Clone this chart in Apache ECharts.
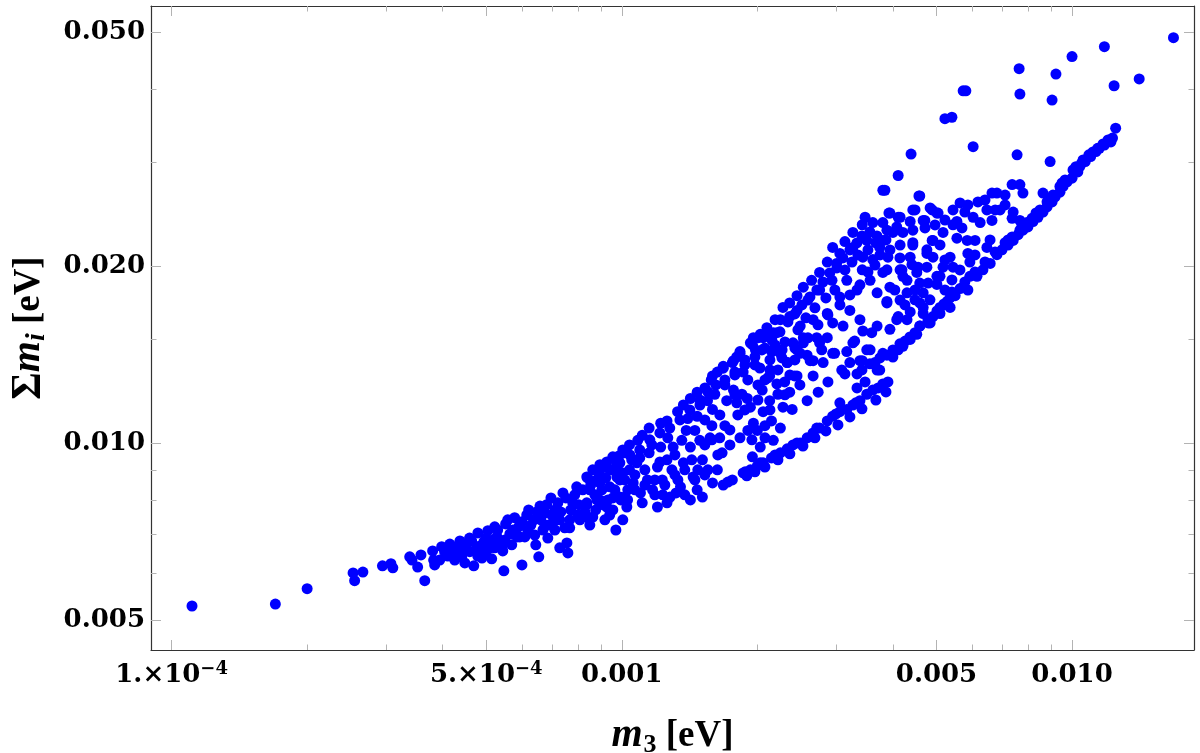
<!DOCTYPE html>
<html>
<head>
<meta charset="utf-8">
<title>m3 vs sum of masses</title>
<script src="https://cdn.jsdelivr.net/npm/echarts@6/dist/echarts.min.js"></script>
<style>
  html, body { margin: 0; padding: 0; background: #fff; }
  #chart { width: 1200px; height: 753px; }
</style>
</head>
<body>
<div id="chart"></div>
<script>
// values: [m3 (eV), sum m_i (eV)]
var tailPoints = [
  [1.11e-4, 0.00528], [1.70e-4, 0.00532], [2.00e-4, 0.00565], [2.53e-4, 0.00601], [2.55e-4, 0.00583],
  [2.66e-4, 0.00603], [2.94e-4, 0.00618], [3.07e-4, 0.00623], [3.10e-4, 0.00613], [3.38e-4, 0.00640],
  [3.42e-4, 0.00632], [3.58e-4, 0.00645], [3.52e-4, 0.00615], [3.65e-4, 0.00583], [3.80e-4, 0.00655],
  [3.82e-4, 0.00632], [3.84e-4, 0.00620], [3.98e-4, 0.00666], [4.15e-4, 0.00673], [4.23e-4, 0.00650],
  [4.37e-4, 0.00681], [4.43e-4, 0.00658], [4.48e-4, 0.00625], [4.59e-4, 0.00689], [4.69e-4, 0.00618],
  [4.79e-4, 0.00703], [4.84e-4, 0.00668], [4.89e-4, 0.00637], [4.99e-4, 0.00689], [5.09e-4, 0.00663],
  [5.14e-4, 0.00635], [5.22e-4, 0.00720], [5.28e-4, 0.00692], [5.36e-4, 0.00676], [5.44e-4, 0.00655],
  [5.47e-4, 0.00606], [5.58e-4, 0.00740], [5.73e-4, 0.00711], [5.78e-4, 0.00746], [5.85e-4, 0.00692],
  [6.00e-4, 0.00734], [6.00e-4, 0.00620], [6.09e-4, 0.00692], [6.21e-4, 0.00769], [6.38e-4, 0.00740],
  [6.44e-4, 0.00671], [6.54e-4, 0.00640], [6.58e-4, 0.00781], [6.68e-4, 0.00711], [6.75e-4, 0.00760],
  [6.85e-4, 0.00689], [6.96e-4, 0.00806], [7.03e-4, 0.00731], [7.10e-4, 0.00769], [7.28e-4, 0.00663],
  [7.40e-4, 0.00822], [7.47e-4, 0.00717], [7.55e-4, 0.00676], [7.59e-4, 0.00650], [7.66e-4, 0.00740],
  [7.78e-4, 0.00791], [7.94e-4, 0.00842], [8.07e-4, 0.00740], [8.36e-4, 0.00785], [8.40e-4, 0.00872],
  [8.49e-4, 0.00725], [8.62e-4, 0.00748], [8.80e-4, 0.00865], [8.94e-4, 0.00800], [9.07e-4, 0.00910],
  [9.17e-4, 0.00740], [9.40e-4, 0.00842], [9.55e-4, 0.00769], [9.70e-4, 0.00711], [9.75e-4, 0.00925],
  [9.90e-4, 0.00865], [1.005e-3, 0.00740], [1.015e-3, 0.00962], [1.015e-3, 0.00809], [1.026e-3, 0.00778],
  [1.005e-3, 0.00889],
  [4.04e-4, 0.00653], [4.19e-4, 0.00663], [4.32e-4, 0.00668], [4.52e-4, 0.00671], [4.64e-4, 0.00681],
  [4.74e-4, 0.00658], [4.94e-4, 0.00679], [5.04e-4, 0.00709], [5.17e-4, 0.00684], [5.30e-4, 0.00711],
  [5.41e-4, 0.00668], [5.52e-4, 0.00728], [5.64e-4, 0.00700], [5.90e-4, 0.00720], [6.15e-4, 0.00754],
  [6.28e-4, 0.00725], [6.47e-4, 0.00763], [6.61e-4, 0.00740], [6.81e-4, 0.00785], [6.88e-4, 0.00725],
  [6.99e-4, 0.00754], [7.21e-4, 0.00791], [7.32e-4, 0.00763], [7.51e-4, 0.00806], [7.70e-4, 0.00769],
  [7.86e-4, 0.00816], [8.02e-4, 0.00785], [8.19e-4, 0.00832], [8.28e-4, 0.00763], [8.53e-4, 0.00848],
  [8.71e-4, 0.00816], [8.85e-4, 0.00893], [9.03e-4, 0.00832], [9.21e-4, 0.00872], [9.31e-4, 0.00800],
  [9.50e-4, 0.00900], [9.65e-4, 0.00832], [9.80e-4, 0.00900], [9.95e-4, 0.00800], [9.85e-4, 0.00950],
  [1.031e-3, 0.00832], [1.052e-3, 0.00936], [1.069e-3, 0.00882],
  [3.94e-4, 0.00632], [4.105e-4, 0.00642], [4.255e-4, 0.00632], [4.41e-4, 0.00640], [4.594e-4, 0.00653],
  [4.786e-4, 0.00642], [4.987e-4, 0.00653], [5.22e-4, 0.00663], [5.495e-4, 0.00684], [5.695e-4, 0.00671],
  [5.933e-4, 0.00692], [6.18e-4, 0.00711], [6.407e-4, 0.00697], [6.745e-4, 0.00725], [7.10e-4, 0.00711],
  [7.28e-4, 0.00740], [7.66e-4, 0.00717], [7.98e-4, 0.00754], [8.40e-4, 0.00746], [8.75e-4, 0.00769],
  [9.07e-4, 0.00785], [9.40e-4, 0.00754]
];

var upperBand = [
  [8.36e-4, 0.00875], [8.62e-4, 0.00900], [8.94e-4, 0.00918], [9.26e-4, 0.00928], [9.55e-4, 0.00947],
  [1.005e-3, 0.00973], [1.04e-3, 0.00992], [1.085e-3, 0.0101], [1.11e-3, 0.0103], [1.15e-3, 0.0106],
  [1.22e-3, 0.0108], [1.26e-3, 0.0109], [1.33e-3, 0.0113], [1.37e-3, 0.0116], [1.42e-3, 0.0119],
  [1.47e-3, 0.0122], [1.53e-3, 0.0124], [1.58e-3, 0.0128], [1.63e-3, 0.0132], [1.68e-3, 0.0135],
  [1.76e-3, 0.0137], [1.80e-3, 0.0140], [1.83e-3, 0.0143], [1.93e-3, 0.0148], [1.96e-3, 0.0151],
  [2.03e-3, 0.0153], [2.11e-3, 0.0154], [2.21e-3, 0.0154],
  [1.59e-3, 0.0130], [1.68e-3, 0.0134], [1.77e-3, 0.0138], [1.83e-3, 0.0142], [1.95e-3, 0.0147],
  [2.01e-3, 0.0151], [2.10e-3, 0.0157], [2.19e-3, 0.0162], [2.28e-3, 0.0170], [2.36e-3, 0.0173],
  [2.45e-3, 0.0178], [2.53e-3, 0.0184], [2.64e-3, 0.0189], [2.75e-3, 0.0195], [2.86e-3, 0.0203],
  [2.94e-3, 0.0215], [3.05e-3, 0.0210], [3.13e-3, 0.0220], [3.26e-3, 0.0228], [3.42e-3, 0.0235],
  [3.47e-3, 0.0242], [3.61e-3, 0.0237], [3.80e-3, 0.0237], [3.84e-3, 0.0269], [3.92e-3, 0.0246],
  [4.11e-3, 0.0242], [4.37e-3, 0.0238], [4.48e-3, 0.0249], [4.59e-3, 0.0263], [4.71e-3, 0.0239],
  [4.89e-3, 0.0249], [5.01e-3, 0.0246],
  [1.694e-3, 0.0128], [1.783e-3, 0.0132], [1.876e-3, 0.01357], [1.975e-3, 0.0140], [2.079e-3, 0.0145],
  [2.154e-3, 0.01497], [2.245e-3, 0.01545], [2.338e-3, 0.01606], [2.423e-3, 0.01657], [2.512e-3, 0.01717],
  [2.617e-3, 0.01771], [2.712e-3, 0.0182], [2.797e-3, 0.01878], [2.897e-3, 0.01946], [3.004e-3, 0.01984],
  [3.097e-3, 0.02064], [3.211e-3, 0.02129], [3.328e-3, 0.02188], [3.415e-3, 0.02249], [3.556e-3, 0.02285],
  [3.687e-3, 0.02249],
  [1.905e-3, 0.0128], [2.026e-3, 0.01341], [2.154e-3, 0.01428], [2.303e-3, 0.01485], [2.461e-3, 0.01557],
  [2.564e-3, 0.01632], [2.685e-3, 0.01697], [2.840e-3, 0.01764], [2.973e-3, 0.0182], [3.130e-3, 0.01969],
  [3.245e-3, 0.02031], [3.345e-3, 0.02088], [3.521e-3, 0.02129], [3.667e-3, 0.02188], [3.861e-3, 0.02214],
  [8.94e-4, 0.00882], [9.40e-4, 0.00900], [9.90e-4, 0.00925], [1.042e-3, 0.00954], [1.096e-3, 0.00973],
  [1.154e-3, 0.01012], [1.215e-3, 0.0104], [1.278e-3, 0.0106], [1.346e-3, 0.01094], [1.416e-3, 0.01138],
  [1.491e-3, 0.01183], [1.553e-3, 0.01221], [1.618e-3, 0.01255],
  [2.133e-3, 0.01331], [2.268e-3, 0.01395], [2.423e-3, 0.0145], [2.590e-3, 0.01509], [2.727e-3, 0.01588],
  [2.869e-3, 0.01651], [3.051e-3, 0.01717], [3.211e-3, 0.01785], [3.380e-3, 0.01857], [3.521e-3, 0.01953],
  [3.65e-3, 0.02007], [3.744e-3, 0.02088]
];

var middlePoints = [
  [8.49e-4, 0.00832], [8.94e-4, 0.00855], [9.75e-4, 0.00875], [9.90e-4, 0.00809], [1.04e-3, 0.00900],
  [1.06e-3, 0.00855], [1.08e-3, 0.00925], [1.11e-3, 0.00791], [1.14e-3, 0.00865], [1.15e-3, 0.00962],
  [1.20e-3, 0.00910], [1.22e-3, 0.00984], [1.23e-3, 0.00865], [1.26e-3, 0.00936], [1.28e-3, 0.00809],
  [1.30e-3, 0.00984], [1.35e-3, 0.00842], [1.37e-3, 0.00925], [1.39e-3, 0.0105], [1.42e-3, 0.00984],
  [1.44e-3, 0.00875], [1.47e-3, 0.0111], [1.49e-3, 0.0101], [1.51e-3, 0.00936], [1.55e-3, 0.0118],
  [1.57e-3, 0.0102], [1.59e-3, 0.0114], [1.63e-3, 0.00900], [1.65e-3, 0.0102], [1.67e-3, 0.00962],
  [1.71e-3, 0.0118], [1.72e-3, 0.00858], [1.77e-3, 0.0123], [1.80e-3, 0.0117], [1.83e-3, 0.0102],
  [1.86e-3, 0.0132], [1.88e-3, 0.00893], [1.90e-3, 0.0119], [1.93e-3, 0.0115], [1.95e-3, 0.00947],
  [1.96e-3, 0.0108], [1.98e-3, 0.0144], [2.00e-3, 0.0105], [2.03e-3, 0.00984], [2.05e-3, 0.0123],
  [2.06e-3, 0.0113], [2.08e-3, 0.0102], [2.11e-3, 0.0129], [2.13e-3, 0.0118], [2.15e-3, 0.0109],
  [2.17e-3, 0.0101], [2.21e-3, 0.0126], [2.25e-3, 0.0106], [2.27e-3, 0.0144], [2.28e-3, 0.0115],
  [2.30e-3, 0.0127], [2.33e-3, 0.0137], [2.36e-3, 0.0122], [2.39e-3, 0.0114], [2.40e-3, 0.0148],
  [2.45e-3, 0.0130], [2.49e-3, 0.0142], [2.53e-3, 0.0151], [2.58e-3, 0.0118], [2.62e-3, 0.0138],
  [2.66e-3, 0.0130], [2.73e-3, 0.0122], [2.75e-3, 0.0148], [2.80e-3, 0.0137], [2.87e-3, 0.0127],
  [2.94e-3, 0.0142], [3.05e-3, 0.0117], [3.08e-3, 0.0133], [3.16e-3, 0.0143], [3.21e-3, 0.0137],
  [3.29e-3, 0.0149], [3.33e-3, 0.0124], [3.38e-3, 0.0138], [3.47e-3, 0.0127], [3.50e-3, 0.0144],
  [3.59e-3, 0.0154], [3.69e-3, 0.0133],
  [8.36e-4, 0.00791], [8.80e-4, 0.00800], [9.26e-4, 0.00778], [9.55e-4, 0.00806], [1.03e-3, 0.00800],
  [1.10e-3, 0.00822], [1.17e-3, 0.00832], [1.20e-3, 0.00778], [1.26e-3, 0.00791], [1.32e-3, 0.00822],
  [1.42e-3, 0.00800], [1.47e-3, 0.00832], [1.51e-3, 0.00809], [1.59e-3, 0.00855], [1.68e-3, 0.00848],
  [1.76e-3, 0.00865],
  [1.096e-3, 0.00943], [1.125e-3, 0.00900], [1.166e-3, 0.00992], [1.184e-3, 0.00865], [1.215e-3, 0.00928],
  [1.233e-3, 0.00816], [1.265e-3, 0.0102], [1.292e-3, 0.00900], [1.312e-3, 0.00954], [1.332e-3, 0.00865],
  [1.359e-3, 0.0101], [1.380e-3, 0.00816], [1.401e-3, 0.0110], [1.430e-3, 0.00936], [1.453e-3, 0.0105],
  [1.475e-3, 0.00900], [1.491e-3, 0.0116], [1.529e-3, 0.00992], [1.553e-3, 0.00900], [1.585e-3, 0.0107],
  [1.609e-3, 0.0121], [1.634e-3, 0.00954], [1.694e-3, 0.01255], [1.694e-3, 0.0107], [1.738e-3, 0.00992],
  [1.783e-3, 0.01305], [1.810e-3, 0.01116], [1.848e-3, 0.0121], [1.876e-3, 0.01384], [1.905e-3, 0.0105],
  [1.975e-3, 0.01357], [2.006e-3, 0.01255], [2.047e-3, 0.01439], [2.079e-3, 0.0107], [2.133e-3, 0.01384],
  [2.188e-3, 0.01468], [2.222e-3, 0.0121],
  [1.015e-3, 0.00865], [1.069e-3, 0.00832], [1.125e-3, 0.00848], [1.184e-3, 0.00816], [1.246e-3, 0.00848],
  [1.312e-3, 0.00882], [1.380e-3, 0.00900], [1.453e-3, 0.00865], [1.529e-3, 0.00882],
  [1.529e-3, 0.01094], [1.585e-3, 0.01012], [1.651e-3, 0.01116], [1.738e-3, 0.01052], [1.783e-3, 0.01207],
  [1.876e-3, 0.01138], [1.945e-3, 0.01012], [2.006e-3, 0.01183], [2.079e-3, 0.0128], [2.133e-3, 0.01138],
  [2.222e-3, 0.01331], [2.303e-3, 0.01207], [2.362e-3, 0.01305], [2.423e-3, 0.01384], [2.486e-3, 0.01255]
];

var lowerBand = [
  [1.86e-3, 0.00889], [1.93e-3, 0.00900], [2.00e-3, 0.00914], [2.06e-3, 0.00925], [2.15e-3, 0.00943],
  [2.25e-3, 0.00962], [2.33e-3, 0.00977], [2.40e-3, 0.00992], [2.49e-3, 0.0100], [2.58e-3, 0.0102],
  [2.66e-3, 0.0104], [2.75e-3, 0.0106], [2.86e-3, 0.0109], [2.94e-3, 0.0111], [3.05e-3, 0.0113],
  [3.16e-3, 0.0114], [3.26e-3, 0.0116], [3.38e-3, 0.0118], [3.50e-3, 0.0121], [3.61e-3, 0.0123],
  [3.71e-3, 0.0124], [3.90e-3, 0.0127], [2.03e-3, 0.00925], [2.19e-3, 0.00954], [2.45e-3, 0.0100],
  [2.71e-3, 0.0106], [2.99e-3, 0.0112], [3.31e-3, 0.0117], [3.80e-3, 0.0126],
  [1.895e-3, 0.00879], [1.975e-3, 0.00893], [2.079e-3, 0.00910], [2.222e-3, 0.00936], [2.362e-3, 0.00958],
  [2.525e-3, 0.00988], [2.685e-3, 0.0102], [2.840e-3, 0.01048], [3.020e-3, 0.01073], [3.211e-3, 0.01107],
  [3.415e-3, 0.01143], [3.667e-3, 0.01183], [3.861e-3, 0.01221]
];

var upperInterior = [
  [2.06e-3, 0.0151], [2.17e-3, 0.0154], [2.25e-3, 0.0162], [2.36e-3, 0.0164], [2.45e-3, 0.0168],
  [2.49e-3, 0.0158], [2.59e-3, 0.0175], [2.66e-3, 0.0162], [2.71e-3, 0.0151], [2.75e-3, 0.0182],
  [2.86e-3, 0.0166], [2.93e-3, 0.0189], [2.94e-3, 0.0160], [3.00e-3, 0.0202], [3.05e-3, 0.0177],
  [3.10e-3, 0.0158], [3.16e-3, 0.0189], [3.21e-3, 0.0168], [3.26e-3, 0.0215], [3.33e-3, 0.0182],
  [3.38e-3, 0.0162], [3.42e-3, 0.0197], [3.43e-3, 0.0207], [3.50e-3, 0.0221], [3.56e-3, 0.0189],
  [3.61e-3, 0.0205], [3.69e-3, 0.0180], [3.74e-3, 0.0215], [3.80e-3, 0.0195], [3.88e-3, 0.0174],
  [3.90e-3, 0.0207], [4.00e-3, 0.0228], [4.04e-3, 0.0182], [4.11e-3, 0.0164], [4.15e-3, 0.0217],
  [4.19e-3, 0.0197], [4.30e-3, 0.0189], [4.37e-3, 0.0207], [4.43e-3, 0.0219], [4.48e-3, 0.0182],
  [4.55e-3, 0.0199], [4.59e-3, 0.0173], [4.67e-3, 0.0166], [4.76e-3, 0.0210], [4.79e-3, 0.0187],
  [4.91e-3, 0.0221], [5.01e-3, 0.0192],
  [2.13e-3, 0.0130], [2.25e-3, 0.0142], [2.33e-3, 0.0137], [2.42e-3, 0.0130], [2.45e-3, 0.0144],
  [2.53e-3, 0.0148], [2.58e-3, 0.0141], [2.66e-3, 0.0138], [2.78e-3, 0.0144], [2.86e-3, 0.0151],
  [2.97e-3, 0.0142], [3.13e-3, 0.0131], [3.26e-3, 0.0148], [3.33e-3, 0.0131], [3.42e-3, 0.0138],
  [3.43e-3, 0.0155], [3.56e-3, 0.0144], [3.69e-3, 0.0158], [3.74e-3, 0.0133], [3.80e-3, 0.0142],
  [3.94e-3, 0.0156], [4.00e-3, 0.0140], [4.11e-3, 0.0144], [4.21e-3, 0.0146], [4.37e-3, 0.0150],
  [4.52e-3, 0.0153], [4.59e-3, 0.0158], [4.79e-3, 0.0160]
];

var rightInterior = [
  [4.11e-3, 0.0285], [3.80e-3, 0.0269], [4.57e-3, 0.0263], [6.64e-3, 0.0266], [6.81e-3, 0.0266],
  [7.10e-3, 0.0264], [7.36e-3, 0.0275], [7.66e-3, 0.0275], [7.78e-3, 0.0266], [8.62e-3, 0.0266],
  [5.64e-3, 0.0256], [5.87e-3, 0.0254], [6.18e-3, 0.0257], [3.94e-3, 0.0246], [4.15e-3, 0.0242],
  [4.43e-3, 0.0249], [4.84e-3, 0.0251], [5.04e-3, 0.0246], [5.44e-3, 0.0249], [5.78e-3, 0.0247],
  [6.03e-3, 0.0242], [6.47e-3, 0.0249], [6.75e-3, 0.0249], [6.92e-3, 0.0249], [7.40e-3, 0.0247],
  [7.36e-3, 0.0241], [7.66e-3, 0.0239], [6.25e-3, 0.0237], [6.64e-3, 0.0239], [5.55e-3, 0.0238],
  [5.44e-3, 0.0235], [4.67e-3, 0.0239], [3.88e-3, 0.0230], [4.08e-3, 0.0233], [4.21e-3, 0.0228],
  [4.43e-3, 0.0230], [5.17e-3, 0.0228], [3.80e-3, 0.0221], [4.43e-3, 0.0217], [4.89e-3, 0.0221],
  [5.55e-3, 0.0223], [5.85e-3, 0.0221], [6.09e-3, 0.0221], [6.47e-3, 0.0215], [4.76e-3, 0.0213],
  [4.91e-3, 0.0207], [5.36e-3, 0.0207], [5.87e-3, 0.0210], [5.44e-3, 0.0199], [5.93e-3, 0.0203],
  [5.17e-3, 0.0199], [4.76e-3, 0.0199], [4.41e-3, 0.0201], [4.15e-3, 0.0197], [3.88e-3, 0.0197],
  [4.21e-3, 0.0192], [4.52e-3, 0.0195], [5.09e-3, 0.0192], [3.94e-3, 0.0184], [4.59e-3, 0.0187],
  [5.01e-3, 0.0186], [5.64e-3, 0.0183], [5.87e-3, 0.0182], [5.93e-3, 0.0192], [4.30e-3, 0.0180],
  [4.67e-3, 0.0180], [3.88e-3, 0.0173], [4.15e-3, 0.0175], [4.67e-3, 0.0170], [4.37e-3, 0.0167],
  [5.09e-3, 0.0166], [5.36e-3, 0.0170], [4.08e-3, 0.0162], [4.30e-3, 0.0162], [4.84e-3, 0.0160],
  [4.714e-3, 0.02321], [4.962e-3, 0.02348], [5.22e-3, 0.02394], [5.695e-3, 0.02321], [7.10e-3, 0.0254],
  [6.407e-3, 0.02589], [5.09e-3, 0.02171], [5.22e-3, 0.02047], [5.636e-3, 0.01969], [6.088e-3, 0.02088],
  [6.575e-3, 0.02214], [4.147e-3, 0.02064], [3.941e-3, 0.02129], [4.255e-3, 0.01717], [4.478e-3, 0.01751],
  [4.835e-3, 0.01751], [5.22e-3, 0.0182], [5.41e-3, 0.01893]
];

var edgeLine = [
  [5.73e-3, 0.0184], [6.15e-3, 0.0192], [6.34e-3, 0.0197], [6.58e-3, 0.0202], [6.81e-3, 0.0209],
  [6.99e-3, 0.0213], [7.21e-3, 0.0217], [7.40e-3, 0.0221], [7.59e-3, 0.0226], [7.78e-3, 0.0230],
  [7.98e-3, 0.0233], [8.19e-3, 0.0238], [8.40e-3, 0.0242], [8.62e-3, 0.0247], [8.80e-3, 0.0252],
  [9.03e-3, 0.0257], [9.17e-3, 0.0262], [9.40e-3, 0.0267], [9.55e-3, 0.0273], [9.75e-3, 0.0278],
  [1.00e-2, 0.0282], [1.03e-2, 0.0289], [1.04e-2, 0.0295], [1.07e-2, 0.0301], [1.10e-2, 0.0307],
  [1.13e-2, 0.0313], [1.15e-2, 0.0317], [1.18e-2, 0.0321], [1.22e-2, 0.0325], [1.23e-2, 0.0330],
  [1.25e-2, 0.0343], [9.65e-3, 0.0280], [1.02e-2, 0.0295], [1.05e-2, 0.0299], [1.09e-2, 0.0309],
  [1.14e-2, 0.0317], [9.40e-3, 0.0273], [9.07e-3, 0.0264], [8.80e-3, 0.0257], [8.49e-3, 0.0249],
  [8.15e-3, 0.0241], [7.94e-3, 0.0237], [7.66e-3, 0.0230], [7.36e-3, 0.0224], [7.10e-3, 0.0219],
  [5.50e-3, 0.0178], [5.28e-3, 0.0174], [5.09e-3, 0.0170], [4.91e-3, 0.0164], [4.48e-3, 0.0154],
  [4.26e-3, 0.0149], [3.88e-3, 0.0141], [3.65e-3, 0.0137],
  [1.202e-2, 0.03276], [1.172e-2, 0.03225], [1.113e-2, 0.03126], [1.058e-2, 0.03029], [1.005e-2, 0.02912],
  [9.50e-3, 0.02768], [8.94e-3, 0.0261], [8.318e-3, 0.02461], [7.74e-3, 0.02348], [7.21e-3, 0.02214],
  [6.745e-3, 0.02113], [6.407e-3, 0.02031], [6.088e-3, 0.01953], [5.78e-3, 0.01878], [5.41e-3, 0.01806],
  [5.356e-3, 0.01764], [5.195e-3, 0.01723], [5.012e-3, 0.01677], [4.786e-3, 0.01619], [4.594e-3, 0.01581],
  [4.365e-3, 0.01514], [4.147e-3, 0.01474], [4.001e-3, 0.01439], [3.744e-3, 0.01395], [3.556e-3, 0.01363],
  [3.415e-3, 0.01331]
];

var sparseTop = [
  [4.39e-3, 0.0310], [6.03e-3, 0.0319], [7.55e-3, 0.0309], [8.94e-3, 0.0301],
  [1.68e-2, 0.0489], [1.18e-2, 0.0472], [1.00e-2, 0.0454], [7.63e-3, 0.0433], [9.21e-3, 0.0424],
  [1.41e-2, 0.0416], [1.24e-2, 0.0405], [5.73e-3, 0.0397], [5.81e-3, 0.0397], [7.66e-3, 0.0392],
  [9.03e-3, 0.0383], [5.41e-3, 0.0358], [5.22e-3, 0.0356]
];

// ticks (eV)
var xTickValues = [1e-4, 5e-4, 0.001, 0.005, 0.01];
var xTickLabels = ['1.×10^−4', '5.×10^−4', '0.001', '0.005', '0.010'];
var xMinorTicks = [2e-4, 3e-4, 4e-4, 6e-4, 7e-4, 8e-4, 9e-4, 0.002, 0.003, 0.004, 0.006, 0.007, 0.008, 0.009];
var yTickValues = [0.005, 0.01, 0.02, 0.05];
var yTickLabels = ['0.005', '0.010', '0.020', '0.050'];
var yMinorTicks = [0.006, 0.007, 0.008, 0.009, 0.015, 0.03, 0.04];

var xRange = [9.0e-5, 0.01866];
var yRange = [0.004444, 0.05535];

var lg = function (v) { return Math.log10(v); };
var allPoints = [].concat(tailPoints, upperBand, middlePoints, lowerBand, upperInterior, rightInterior, edgeLine, sparseTop);
var seriesData = allPoints.map(function (p) { return [lg(p[0]), lg(p[1])]; });

var labelFont = 'DejaVu Serif';
var nameFont = 'Liberation Serif';
var frameColor = '#333';
var tickColor = '#b3b3b3';

function labelFor(values, labels, v) {
  for (var i = 0; i < values.length; i++) {
    if (Math.abs(lg(values[i]) - v) < 1e-6) {
      var parts = labels[i].split('^');
      return parts.length > 1 ? '{b|' + parts[0] + '}{s|' + parts[1] + '}' : '{b|' + parts[0] + '}';
    }
  }
  return '';
}

var labelRich = {
  b: { fontFamily: labelFont, fontWeight: 'bold', fontSize: 26, color: '#000', lineHeight: 30 },
  s: { fontFamily: labelFont, fontWeight: 'bold', fontSize: 18, color: '#000', lineHeight: 18, verticalAlign: 'top' }
};
var nameRich = {
  rm: { fontFamily: nameFont, fontWeight: 'bold', fontSize: 37, color: '#000', lineHeight: 44 },
  sig: { fontFamily: nameFont, fontWeight: 'bold', fontSize: 42, color: '#000', lineHeight: 44 },
  it: { fontFamily: nameFont, fontWeight: 'bold', fontStyle: 'italic', fontSize: 40, color: '#000', lineHeight: 44 },
  sub: { fontFamily: nameFont, fontWeight: 'bold', fontSize: 26, color: '#000', lineHeight: 28, verticalAlign: 'bottom', padding: [0, 0, 0, 1] },
  subi: { fontFamily: nameFont, fontWeight: 'bold', fontStyle: 'italic', fontSize: 28, color: '#000', lineHeight: 28, verticalAlign: 'bottom' }
};

function makeAxis(opt) {
  var base = {
    type: 'value',
    min: opt.range[0],
    max: opt.range[1],
    position: opt.position,
    splitLine: { show: false },
    axisLine: { show: opt.line, onZero: false, lineStyle: { color: frameColor, width: 1.2 } },
    axisTick: { show: true, inside: true, length: opt.len, customValues: opt.ticks.map(lg), lineStyle: { color: tickColor, width: 1 } },
    axisLabel: { show: false },
    minorTick: { show: false }
  };
  if (opt.labels) {
    base.axisLabel = {
      show: true,
      customValues: opt.ticks.map(lg),
      margin: opt.margin,
      formatter: function (v) { return labelFor(opt.ticks, opt.labels, v); },
      rich: labelRich
    };
  }
  if (opt.name) {
    base.name = opt.name;
    base.nameLocation = 'middle';
    base.nameGap = opt.nameGap;
    base.nameRotate = opt.nameRotate;
    base.nameTextStyle = { rich: nameRich };
  }
  return base;
}

var xr = xRange.map(lg), yr = yRange.map(lg);

var chart = echarts.init(document.getElementById('chart'), null, { renderer: 'canvas' });
chart.setOption({
  backgroundColor: '#fff',
  animation: false,
  grid: { left: 151, right: 6, top: 6, bottom: 103, containLabel: false, outerBoundsMode: 'none' },
  xAxis: [
    makeAxis({ range: xr, position: 'bottom', line: true, len: 10, ticks: xTickValues, labels: xTickLabels, margin: 10,
      name: '{it|m}{sub|3}{rm| [eV]}', nameGap: 64, nameRotate: 0 }),
    makeAxis({ range: xr, position: 'bottom', line: false, len: 5.5, ticks: xMinorTicks }),
    makeAxis({ range: xr, position: 'top', line: true, len: 10, ticks: xTickValues }),
    makeAxis({ range: xr, position: 'top', line: false, len: 5.5, ticks: xMinorTicks })
  ],
  yAxis: [
    makeAxis({ range: yr, position: 'left', line: true, len: 10, ticks: yTickValues, labels: yTickLabels, margin: 6,
      name: '{sig|Σ}{it|m}{subi|i}{rm| [eV]}', nameGap: 100, nameRotate: 90 }),
    makeAxis({ range: yr, position: 'left', line: false, len: 5.5, ticks: yMinorTicks }),
    makeAxis({ range: yr, position: 'right', line: true, len: 10, ticks: yTickValues }),
    makeAxis({ range: yr, position: 'right', line: false, len: 5.5, ticks: yMinorTicks })
  ],
  series: [{
    type: 'scatter',
    xAxisIndex: 0,
    yAxisIndex: 0,
    symbol: 'circle',
    symbolSize: 11,
    itemStyle: { color: '#0000ff', opacity: 1 },
    data: seriesData
  }]
});
</script>
</body>
</html>
